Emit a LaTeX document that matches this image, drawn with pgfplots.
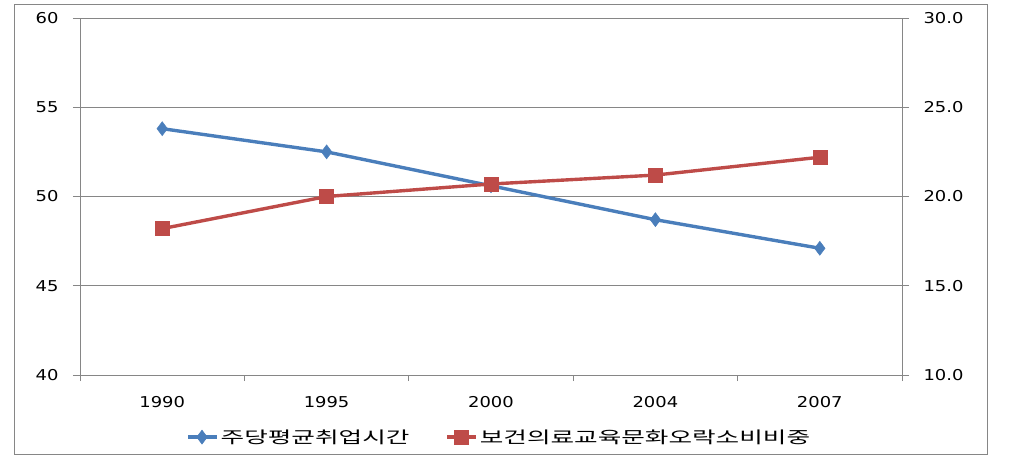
\documentclass[border=0pt]{standalone}
\usepackage{pgfplots}
\pgfplotsset{compat=1.18}
\usepackage{fontspec}
\setmainfont[FakeStretch=1.2]{DejaVu Sans}
\newfontfamily\kr[FakeStretch=1.56]{Noto Sans CJK KR}
\definecolor{bl}{HTML}{4A7EBB}
\definecolor{rd}{HTML}{BE4B48}
\definecolor{gr}{HTML}{868686}
\begin{document}
\begin{tikzpicture}
\pgfplotsset{
  common/.style={
    scale only axis, width=822bp, height=357bp,
    xmin=-0.5, xmax=4.5,
    axis line style={gr, line width=0.8pt, -},
    tick style={gr, line width=0.8pt},
    tick align=outside,
    major tick length=7bp,
    font=\fontsize{15}{17}\selectfont,
    /pgf/number format/assume math mode=true,
  }
}
\begin{axis}[common, name=ax1,
  ymin=40, ymax=60, ytick={40,45,...,60},
  axis x line*=bottom, axis y line*=left,
  ymajorgrids, grid style={gr, line width=0.8pt},
  xtick={0,...,4}, xticklabels={1990,1995,2000,2004,2007},
  major x tick style={draw=none},
  minor xtick={-0.5,0.5,...,4.5}, minor tick length=6bp,
  xticklabel style={yshift=-11bp},
  yticklabel style={xshift=-11bp},
]
\addplot[bl, line width=3.4pt, mark=diamond*, mark size=7bp, mark options={line width=0.5pt}] coordinates {
  (0,53.8) (1,52.5) (2,50.6) (3,48.7) (4,47.1)};
\end{axis}
\begin{axis}[common,
  at={(ax1.south west)}, anchor=south west,
  ymin=10, ymax=30, ytick={10,15,...,30},
  axis x line=none, axis y line*=right,
  yticklabel style={/pgf/number format/.cd, fixed, fixed zerofill, precision=1, /tikz/.cd, xshift=11bp},
  legend style={at={(0.51,-0.174)}, anchor=center, draw=none, fill=none,
    legend columns=2, font=\kr\fontsize{16.5}{18}\selectfont,
    /tikz/every even column/.append style={column sep=34bp},
    inner sep=0pt},
  legend cell align=left,
  legend image code/.code={\draw[mark repeat=2, mark phase=2] plot coordinates {(0bp,0bp) (14bp,0bp) (29bp,0bp)};},
]
\addlegendimage{bl, line width=3.4pt, mark=diamond*, mark size=7bp, mark options={line width=0.5pt}}
\addlegendentry{주당평균취업시간}
\addplot[rd, line width=3.4pt, mark=square*, mark size=7bp, mark options={line width=0.5pt}] coordinates {
  (0,18.2) (1,20.0) (2,20.7) (3,21.2) (4,22.2)};
\addlegendentry{보건의료교육문화오락소비비중}
\end{axis}
\draw[gr, line width=0.8pt] (ax1.south west) ++(-66bp,-79bp) rectangle ++(973bp,450bp);
\path (ax1.south west) ++(-80bp,-87bp) rectangle ++(1013bp,462bp);
\end{tikzpicture}
\end{document}
